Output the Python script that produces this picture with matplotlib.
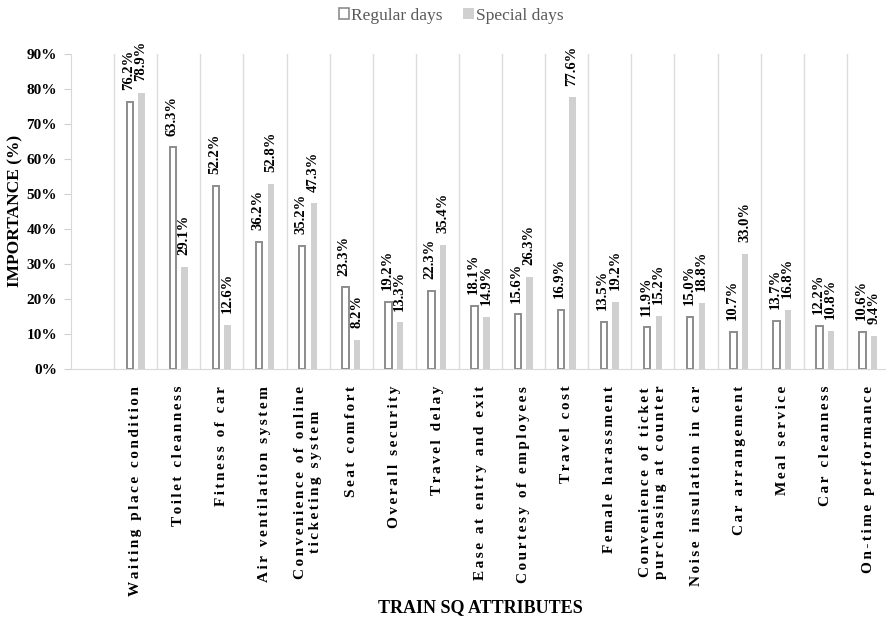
import matplotlib
matplotlib.use("Agg")
import matplotlib.pyplot as plt
from matplotlib.patches import Patch
import numpy as np

categories = [
    "Waiting place condition", "Toilet cleanness", "Fitness of car",
    "Air ventilation system", "Convenience of online\nticketing system",
    "Seat comfort", "Overall security", "Travel delay", "Ease at entry and exit",
    "Courtesy of employees", "Travel cost", "Female harassment",
    "Convenience of ticket\npurchasing at counter", "Noise insulation in car",
    "Car arrangement", "Meal service", "Car cleanness", "On-time performance",
]
regular = [76.2, 63.3, 52.2, 36.2, 35.2, 23.3, 19.2, 22.3, 18.1, 15.6, 16.9,
           13.5, 11.9, 15.0, 10.7, 13.7, 12.2, 10.6]
special = [78.9, 29.1, 12.6, 52.8, 47.3, 8.2, 13.3, 35.4, 14.9, 26.3, 77.6,
           19.2, 15.2, 18.8, 33.0, 16.8, 10.8, 9.4]
yticks = [0, 10, 20, 30, 40, 50, 60, 70, 80, 90]

plt.rcParams['font.family'] = ['Liberation Serif', 'DejaVu Serif']

fig = plt.figure(figsize=(8.87, 6.22), dpi=100)
ax = fig.add_axes([71/887, (622-369)/622, 819/887, (369-54)/622])

x = np.arange(len(categories))
w = 0.15
off = 0.135
ax.bar(x - off, regular, width=w, facecolor='white', edgecolor='#8c8c8c', linewidth=1.4, zorder=3)
ax.bar(x + off, special, width=w, facecolor='#d0d0d0', edgecolor='none', zorder=3)

for xi, v in zip(x, regular):
    ax.annotate(f"{v:.1f}%", (xi - off - 0.03, v), xytext=(0, 8.5), textcoords='offset points',
                rotation=90, ha='center', va='bottom', fontsize=10.5, fontweight='bold',
                color='black')
for xi, v in zip(x, special):
    ax.annotate(f"{v:.1f}%", (xi + off - 0.01, v), xytext=(0, 8.5), textcoords='offset points',
                rotation=90, ha='center', va='bottom', fontsize=10.5, fontweight='bold',
                color='black')

for b in np.arange(-0.5, len(categories) - 0.5, 1.0):
    ax.axvline(b, color='#dcdcdc', linewidth=1.0, zorder=1)

ax.set_xlim(-1.5, len(categories) - 0.5)
ax.set_ylim(0, 90)
ax.set_yticks(yticks)
ax.set_yticklabels([f"{t}%" for t in yticks], fontsize=11, fontweight='bold')
ax.tick_params(axis='y', length=5, color='#d0d0d0', pad=5)

def spaced(s):
    return "\n".join("\u2006".join(list(line)) for line in s.split("\n"))

ax.set_xticks(x)
ax.set_xticklabels([spaced(c) for c in categories], rotation=90, fontsize=11,
                   fontweight='bold', ha='center', va='top', multialignment='center',
                   linespacing=1.15)
ax.tick_params(axis='x', length=0, pad=12)

for s in ['top', 'right']:
    ax.spines[s].set_visible(False)
ax.spines['left'].set_color('#d9d9d9')
ax.spines['bottom'].set_color('#d9d9d9')

fig.text(15/887, 1 - 211/622, "IMPORTANCE (%)", rotation=90, ha='center', va='center',
         fontsize=12.5, fontweight='bold')
fig.text(480/887, 1 - 608/622, "TRAIN SQ ATTRIBUTES", ha='center', va='center',
         fontsize=13, fontweight='bold')

handles = [Patch(facecolor='white', edgecolor='#8c8c8c', linewidth=1.2, label='Regular days'),
           Patch(facecolor='#d0d0d0', edgecolor='none', label='Special days')]
fig.legend(handles=handles, loc='center', bbox_to_anchor=(451/887, 1 - 16/622), ncol=2,
           frameon=False, fontsize=12.5, handlelength=0.6, handleheight=0.6,
           handletextpad=0.1, columnspacing=1.2, labelcolor='#595959')

fig.savefig("out.png", dpi=100)
